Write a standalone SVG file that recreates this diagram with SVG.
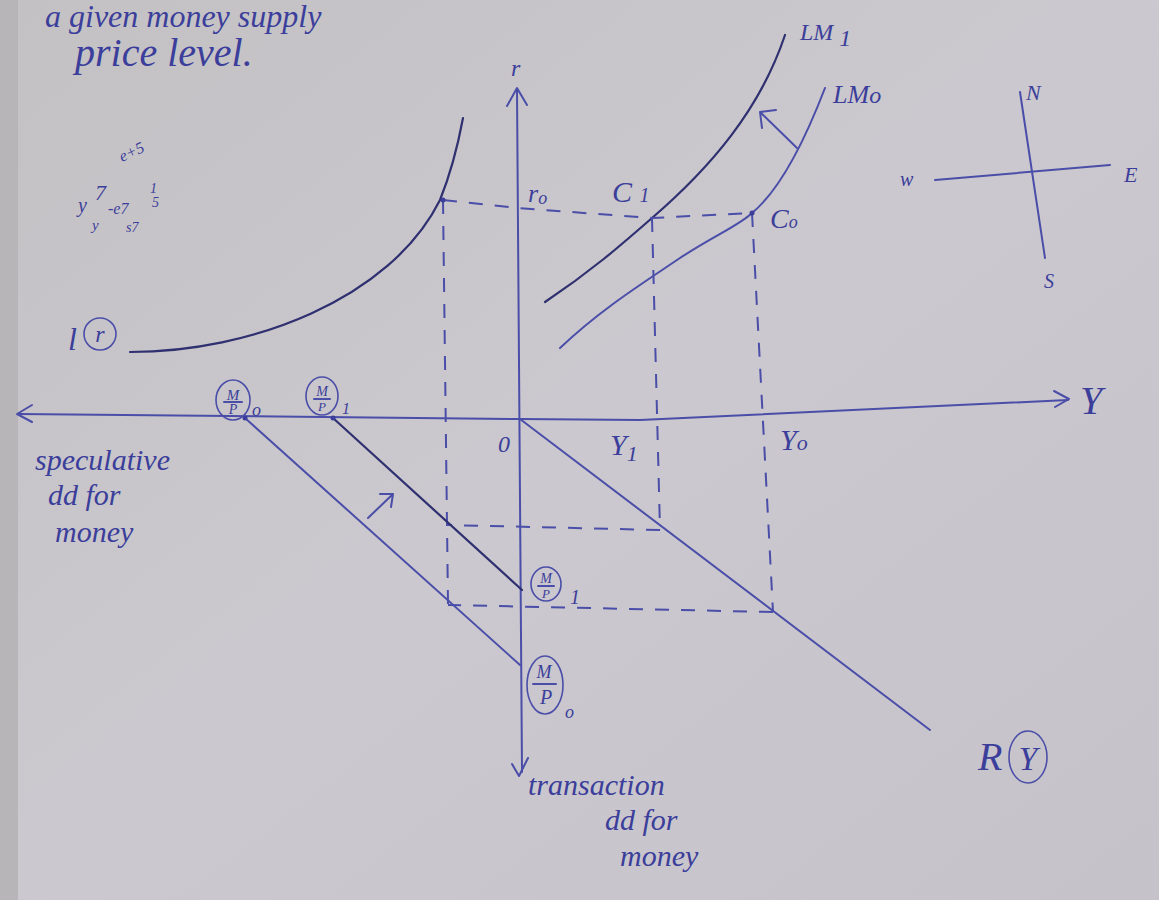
<svg xmlns="http://www.w3.org/2000/svg" width="1159" height="900" viewBox="0 0 1159 900">
<defs>
<linearGradient id="paper" x1="0" y1="0" x2="1" y2="1">
<stop offset="0" stop-color="#c4c1c4"/>
<stop offset="0.5" stop-color="#cbc8cf"/>
<stop offset="1" stop-color="#c6c2ca"/>
</linearGradient>
</defs>
<style>
.ink{fill:none;stroke:#4a4ea8;stroke-width:2;stroke-linecap:round;stroke-linejoin:round}
.dark{fill:none;stroke:#2f3070;stroke-width:2.2;stroke-linecap:round}
.dash{fill:none;stroke:#4a4ea8;stroke-width:2;stroke-dasharray:14 12}
.hw{font-family:"Liberation Serif",serif;font-style:italic;fill:#3b3e9a}
.circ{fill:none;stroke:#4a4ea8;stroke-width:1.6}
</style>
<rect width="1159" height="900" fill="url(#paper)"/>
<rect x="0" y="0" width="18" height="900" fill="#b8b5b8"/>

<g id="header-text">
<text class="hw" x="45" y="27" font-size="32">a given money supply</text>
<text class="hw" x="75" y="66" font-size="40">price  level.</text>
</g>

<g id="scribble">
<text class="hw" x="122" y="162" font-size="16" transform="rotate(-25 122 162)">e+5</text>
<text class="hw" x="78" y="212" font-size="20">y</text>
<text class="hw" x="95" y="200" font-size="22">7</text>
<text class="hw" x="108" y="214" font-size="16">-e7</text>
<text class="hw" x="150" y="193" font-size="14">1</text>
<text class="hw" x="152" y="207" font-size="14">5</text>
<text class="hw" x="92" y="230" font-size="15">y</text>
<text class="hw" x="126" y="232" font-size="14">s7</text>
</g>

<g id="connectors">
<path class="ink" d="M517,90 L522,772"/>
<path class="ink" d="M507,106 L517,88 L527,105"/>
<path class="ink" d="M512,764 L519,776 L528,758"/>
<path class="ink" d="M18,414 L520,419 L640,420 L1068,400"/>
<path class="ink" d="M32,405 L17,414 L32,422"/>
<path class="ink" d="M1054,391 L1069,399 L1055,407"/>

<path class="dark" d="M130,352 C250,352 390,300 440,200 C452,170 458,145 463,118"/>
<path class="dark" d="M545,302 C590,272 620,246 652,218 C710,168 760,110 785,35"/>
<path class="ink" d="M560,348 C600,310 640,285 680,258 C715,235 740,225 752,213 C780,190 805,140 825,88"/>
<path class="ink" d="M797,148 L760,112 M760,112 L776,110 M760,112 L762,128"/>

<path class="dash" d="M443,200 L517,208 L652,218 L752,213"/>
<path class="dash" d="M443,200 L448,605"/>
<path class="dash" d="M652,218 L660,530"/>
<path class="dash" d="M752,213 L773,612"/>
<path class="dash" d="M660,530 L448,525"/>
<path class="dash" d="M773,612 L448,605"/>

<path class="ink" d="M520,419 L930,730"/>
<path class="ink" d="M245,418 L520,665"/>
<path class="dark" d="M333,418 L522,590"/>
<path class="ink" d="M368,518 L393,494 M393,494 L380,494 M393,494 L391,507"/>

<circle cx="443" cy="200" r="2.5" fill="#3b3e9a"/>
<circle cx="752" cy="213" r="2.5" fill="#3b3e9a"/>
<circle cx="245" cy="418" r="2.5" fill="#3b3e9a"/>
<circle cx="333" cy="418" r="2.5" fill="#3b3e9a"/>
</g>

<g id="compass">
<path class="ink" d="M1020,92 L1045,258"/>
<path class="ink" d="M935,180 L1110,165"/>
<text class="hw" x="1026" y="100" font-size="22">N</text>
<text class="hw" x="900" y="186" font-size="20">w</text>
<text class="hw" x="1124" y="182" font-size="22">E</text>
<text class="hw" x="1044" y="288" font-size="20">S</text>
</g>

<g id="labels">
<text class="hw" x="511" y="76" font-size="24">r</text>
<text class="hw" x="528" y="202" font-size="26">r<tspan font-size="18" dy="2">o</tspan></text>
<text class="hw" x="612" y="202" font-size="30">C <tspan font-size="20">1</tspan></text>
<text class="hw" x="770" y="228" font-size="28">C<tspan font-size="18">o</tspan></text>
<text class="hw" x="800" y="40" font-size="24">LM <tspan font-size="24" dy="6">1</tspan></text>
<text class="hw" x="833" y="103" font-size="26">LM<tspan font-size="24">o</tspan></text>
<g id="l-of-r">
<text class="hw" x="68" y="350" font-size="32">l</text>
<circle class="circ" cx="100" cy="334" r="16"/>
<text class="hw" x="100" y="342" font-size="24" text-anchor="middle">r</text>
</g>
<text class="hw" x="498" y="452" font-size="24">0</text>
<text class="hw" x="610" y="455" font-size="30">Y<tspan font-size="22" dy="6">1</tspan></text>
<text class="hw" x="780" y="450" font-size="30">Y<tspan font-size="22">o</tspan></text>
<text class="hw" x="1080" y="414" font-size="40">Y</text>
<g id="r-of-y">
<text class="hw" x="978" y="770" font-size="40">R</text>
<ellipse class="circ" cx="1028" cy="757" rx="19" ry="26"/>
<text class="hw" x="1028" y="770" font-size="34" text-anchor="middle">Y</text>
</g>
</g>

<g id="mp0-left">
<ellipse class="circ" cx="233" cy="400" rx="17" ry="20"/>
<text class="hw" x="233" y="400" font-size="15" text-anchor="middle">M</text>
<path class="ink" d="M224,402 L242,402" stroke-width="1.2"/>
<text class="hw" x="233" y="414" font-size="14" text-anchor="middle">P</text>
<text class="hw" x="252" y="416" font-size="18">o</text>
</g>
<g id="mp1-left">
<ellipse class="circ" cx="322" cy="396" rx="16" ry="19"/>
<text class="hw" x="322" y="396" font-size="14" text-anchor="middle">M</text>
<path class="ink" d="M314,399 L330,399" stroke-width="1.2"/>
<text class="hw" x="322" y="411" font-size="13" text-anchor="middle">P</text>
<text class="hw" x="342" y="414" font-size="16">1</text>
</g>
<g id="mp1-bottom">
<ellipse class="circ" cx="546" cy="584" rx="15" ry="17"/>
<text class="hw" x="546" y="583" font-size="14" text-anchor="middle">M</text>
<path class="ink" d="M538,586 L554,586" stroke-width="1.2"/>
<text class="hw" x="546" y="598" font-size="13" text-anchor="middle">P</text>
<text class="hw" x="570" y="604" font-size="20">1</text>
</g>
<g id="mp0-bottom">
<ellipse class="circ" cx="545" cy="685" rx="18" ry="29"/>
<text class="hw" x="544" y="678" font-size="18" text-anchor="middle">M</text>
<path class="ink" d="M533,684 L556,684" stroke-width="1.4"/>
<text class="hw" x="546" y="704" font-size="20" text-anchor="middle">P</text>
<text class="hw" x="565" y="718" font-size="18">o</text>
</g>

<g id="axis-captions">
<text class="hw" x="35" y="470" font-size="30">speculative</text>
<text class="hw" x="48" y="505" font-size="30">dd for</text>
<text class="hw" x="55" y="542" font-size="30">money</text>
<text class="hw" x="528" y="795" font-size="30">transaction</text>
<text class="hw" x="605" y="830" font-size="30">dd for</text>
<text class="hw" x="620" y="866" font-size="30">money</text>
</g>
</svg>
